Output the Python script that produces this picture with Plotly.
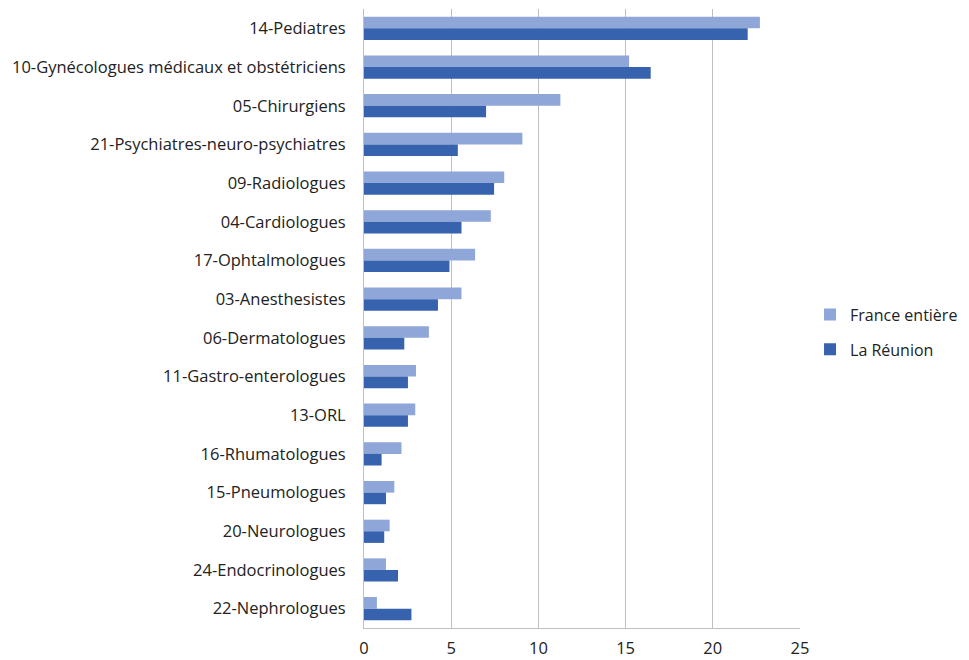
import plotly.graph_objects as go

specialites = [
    "14-Pediatres",
    "10-Gynécologues médicaux et obstétriciens",
    "05-Chirurgiens",
    "21-Psychiatres-neuro-psychiatres",
    "09-Radiologues",
    "04-Cardiologues",
    "17-Ophtalmologues",
    "03-Anesthesistes",
    "06-Dermatologues",
    "11-Gastro-enterologues",
    "13-ORL",
    "16-Rhumatologues",
    "15-Pneumologues",
    "20-Neurologues",
    "24-Endocrinologues",
    "22-Nephrologues",
]

france = [22.7, 15.2, 11.26, 9.08, 8.04, 7.27, 6.37, 5.59, 3.72, 2.98,
          2.94, 2.15, 1.74, 1.47, 1.26, 0.74]
reunion = [22.0, 16.44, 7.0, 5.38, 7.46, 5.59, 4.9, 4.24, 2.31, 2.52,
           2.52, 1.01, 1.26, 1.16, 1.95, 2.72]

x_ticks = [0, 5, 10, 15, 20, 25]

FONT = "'Open Sans', Lato, sans-serif"

fig = go.Figure()
fig.add_trace(go.Bar(
    y=specialites, x=france, orientation='h', legendgroup='fr',
    name="France entière", marker=dict(color='#8FA6D9', line=dict(width=0))
))
fig.add_trace(go.Bar(
    y=specialites, x=reunion, orientation='h', legendgroup='re',
    name="La Réunion", marker=dict(color='#3762AE', line=dict(width=0))
))

# page body adds 8px around the plot, so the figure is 8px smaller
fig.update_layout(
    width=961, height=652,
    margin=dict(l=356, r=169, t=1, b=32, autoexpand=False),
    barmode='group', bargap=0.4, bargroupgap=0,
    plot_bgcolor='white', paper_bgcolor='white',
    font=dict(family=FONT, size=16.5, color='#222222'),
    legend=dict(x=1.023, y=0.478, yanchor='middle', xanchor='left',
                traceorder='grouped', tracegroupgap=11, itemwidth=30,
                font=dict(size=16)),
    xaxis=dict(range=[0, 25], tickvals=x_ticks, showgrid=True,
               gridcolor='#BFBFBF', gridwidth=1, zeroline=False,
               showline=True, linecolor='#BFBFBF', ticks='',
               ticklabelstandoff=5, fixedrange=True, automargin=False),
    yaxis=dict(autorange='reversed', showline=True, linecolor='#BFBFBF',
               ticks='', ticklabelstandoff=14, fixedrange=True,
               automargin=False),
)

fig.write_html("out.html")
